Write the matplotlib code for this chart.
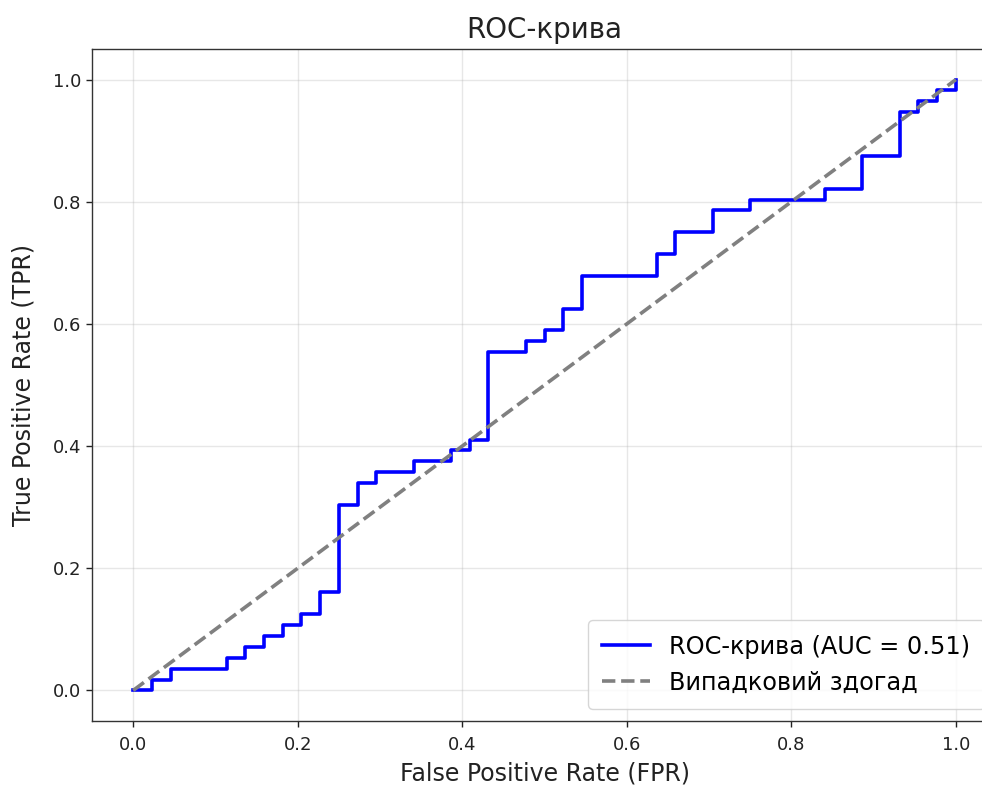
import matplotlib
matplotlib.use("Agg")
import matplotlib.pyplot as plt
import numpy as np

# ROC curve corners, as counts of negatives / positives passed
n_negatives = 44
n_positives = 56
fp_counts = [0, 1, 1, 2, 2, 5, 5, 6, 6, 7, 7, 8, 8, 9, 9, 10, 10, 11, 11, 12, 12,
             13, 13, 15, 15, 17, 17, 18, 18, 19, 19, 21, 21, 22, 22, 23, 23, 24, 24,
             28, 28, 29, 29, 31, 31, 33, 33, 37, 37, 39, 39, 41, 41, 42, 42, 43, 43,
             44, 44]
tp_counts = [0, 0, 1, 1, 2, 2, 3, 3, 4, 4, 5, 5, 6, 6, 7, 7, 9, 9, 17, 17, 19,
             19, 20, 20, 21, 21, 22, 22, 23, 23, 31, 31, 32, 32, 33, 33, 35, 35, 38,
             38, 40, 40, 42, 42, 44, 44, 45, 45, 46, 46, 49, 49, 53, 53, 54, 54, 55,
             55, 56]

fpr = np.array(fp_counts) / n_negatives
tpr = np.array(tp_counts) / n_positives
auc_value = 0.51

chance = [0, 1]
x_ticks = [0.0, 0.2, 0.4, 0.6, 0.8, 1.0]

plt.rcParams['font.family'] = ['DejaVu Sans']

fig = plt.figure(figsize=(9.82, 7.87), dpi=100)
ax = fig.add_axes([0.0937, 0.0839, 0.9216, 0.8538])

ax.plot(fpr, tpr, color='blue', lw=2.6, label=f'ROC-крива (AUC = {auc_value:.2f})')
ax.plot(chance, chance, color='gray', lw=2.6, linestyle='--', label='Випадковий здогад')

ax.set_xticks(x_ticks)
ax.set_yticks(x_ticks)
ax.tick_params(labelsize=13, length=4.5, width=1.0, colors='#222222')
ax.tick_params(axis='x', pad=6.5)
ax.set_xlabel('False Positive Rate (FPR)', fontsize=17, labelpad=5.5, color='#222222')
ax.set_ylabel('True Positive Rate (TPR)', fontsize=17, labelpad=12, color='#222222')
ax.set_title('ROC-крива', fontsize=20, pad=8, color='#222222')
ax.grid(True, alpha=0.3, lw=1.0)
for s in ax.spines.values():
    s.set_linewidth(1.0)
    s.set_color('#333333')
ax.spines['right'].set_visible(False)

ax.legend(loc='lower right', fontsize=17.3, borderaxespad=0.5, borderpad=0.6)

fig.savefig('out.png', dpi=100)
